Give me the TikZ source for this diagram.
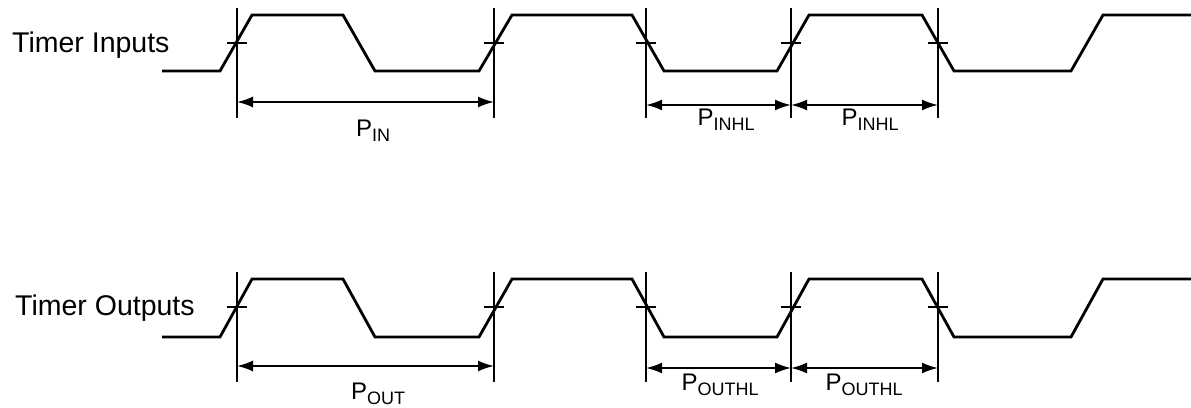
\documentclass[tikz,border=0pt]{standalone}
\usepackage{fontspec}
\setmainfont{Liberation Sans}
\usetikzlibrary{arrows.meta}
\newcommand\plabel[1]{{\fontsize{24}{26}\selectfont P}\raisebox{-5pt}{\fontsize{18}{19}\selectfont #1}}
\newcommand\wavedraw[2]{%
  \draw[wave] (162,#2) -- (220,#2) -- (252,#1) -- (343,#1) -- (375,#2) -- (479,#2) -- (512,#1)
    -- (632,#1) -- (664,#2) -- (777,#2) -- (809,#1) -- (922,#1) -- (954,#2) -- (1071,#2)
    -- (1103,#1) -- (1191,#1);}
\begin{document}
\begin{tikzpicture}[x=1pt,y=-1pt,
  wave/.style={line width=2.8pt,line join=miter},
  marker/.style={line width=1.9pt},
  dim/.style={line width=1.9pt,{Latex[length=16pt,width=11pt]}-{Latex[length=16pt,width=11pt]}},
  lab/.style={font=\fontsize{28.5}{30}\selectfont,inner sep=0pt,anchor=base west},
  plab/.style={inner sep=0pt,anchor=base}]
\useasboundingbox (0,0) rectangle (1191,407);

% ---------- Timer Inputs ----------
\node[lab] (lin) at (12,52) {Timer Inputs};
\wavedraw{15}{71}
\foreach \i/\x in {1/237,2/494,3/646,4/791,5/938}{
  \coordinate (it\i) at (\x,8);
  \coordinate (ib\i) at (\x,118);
  \draw[marker] (it\i) -- (ib\i);
  \draw[marker] (\x-10,43) -- (\x+10,43);
}
\coordinate (ia1) at (237,102);
\coordinate (ia2) at (494,102);
\coordinate (ic3) at (646,105);
\coordinate (ic4) at (791,105);
\coordinate (ic5) at (938,105);
\draw[dim] (ia1) -- (ia2);
\draw[dim] (ic3) -- (ic4);
\draw[dim] (ic4) -- (ic5);
\node[plab] (pin) at (373,136) {\plabel{IN}};
\node[plab] (pinhl1) at (726,125) {\plabel{INHL}};
\node[plab] (pinhl2) at (870,125) {\plabel{INHL}};

% ---------- Timer Outputs ----------
\node[lab] (lout) at (15,315) {Timer Outputs};
\wavedraw{279}{337}
\foreach \i/\x in {1/237,2/494,3/646,4/791,5/938}{
  \coordinate (ot\i) at (\x,272);
  \coordinate (ob\i) at (\x,382);
  \draw[marker] (ot\i) -- (ob\i);
  \draw[marker] (\x-10,307) -- (\x+10,307);
}
\coordinate (oa1) at (237,366);
\coordinate (oa2) at (494,366);
\coordinate (oc3) at (646,368);
\coordinate (oc4) at (791,368);
\coordinate (oc5) at (938,368);
\draw[dim] (oa1) -- (oa2);
\draw[dim] (oc3) -- (oc4);
\draw[dim] (oc4) -- (oc5);
\node[plab] (pout) at (378,399) {\plabel{OUT}};
\node[plab] (pouthl1) at (720,390) {\plabel{OUTHL}};
\node[plab] (pouthl2) at (864,390) {\plabel{OUTHL}};
\end{tikzpicture}
\end{document}
